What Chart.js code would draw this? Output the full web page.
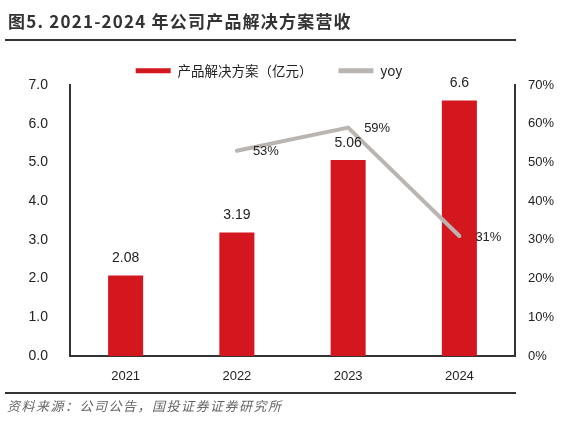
<!DOCTYPE html>
<html>
<head>
<meta charset="utf-8">
<script src="https://cdn.jsdelivr.net/npm/chart.js@4.4.0/dist/chart.umd.min.js"></script>
<style>
  html, body { margin: 0; padding: 0; background: #fff; }
  #wrap { position: relative; width: 574px; height: 428px; overflow: hidden; }
  #title { position: absolute; left: 8px; top: 8px; font: bold 17px "Noto Sans CJK SC", sans-serif; color: #333; letter-spacing: 1.2px; white-space: nowrap; }
  .rule { position: absolute; left: 5px; width: 511px; height: 2px; background: #333; }
  #source { position: absolute; left: 7px; top: 396px; font: italic 13px "Noto Sans CJK SC", sans-serif; color: #666; letter-spacing: 1.5px; white-space: nowrap; }
  #grafico { position: absolute; left: 0; top: 0; }
</style>
</head>
<body>
<div id="wrap">
  <canvas id="grafico" width="574" height="428"></canvas>
  <div id="title">图5. 2021-2024 年公司产品解决方案营收</div>
  <div class="rule" style="top:39px"></div>
  <div class="rule" style="top:392px"></div>
  <div id="source">资料来源：公司公告，国投证券证券研究所</div>
</div>
<script>
// 数据
const years = ['2021', '2022', '2023', '2024'];
const revenue = [2.08, 3.19, 5.06, 6.6];
const revenueLabels = ['2.08', '3.19', '5.06', '6.6'];
const yoy = [null, 53, 59, 31];

const RED = '#d4171f';
const GRAY = '#bab5b0';

// 在柱子和折线上写数值
const valueLabels = {
  id: 'valueLabels',
  afterDatasetsDraw(chart) {
    const ctx = chart.ctx;
    ctx.save();
    ctx.fillStyle = '#222';
    ctx.font = '14px "Liberation Sans", Arial, sans-serif';
    ctx.textAlign = 'center';
    ctx.textBaseline = 'bottom';
    chart.getDatasetMeta(0).data.forEach((bar, i) => {
      ctx.fillText(revenueLabels[i], bar.x, bar.y - 10);
    });
    ctx.font = '13px "Liberation Sans", Arial, sans-serif';
    ctx.textAlign = 'left';
    ctx.textBaseline = 'middle';
    chart.getDatasetMeta(1).data.forEach((pt, i) => {
      if (yoy[i] === null) return;
      ctx.fillText(yoy[i] + '%', pt.x + 16, pt.y + 1);
    });
    ctx.restore();
  }
};

// 图例稍微左移，和原图一致
const legendShift = {
  id: 'legendShift',
  afterLayout(chart) {
    chart.legend.left -= 18;
    chart.legend.right -= 18;
  }
};

new Chart(document.getElementById('grafico'), {
  type: 'bar',
  data: {
    labels: years,
    datasets: [
      {
        label: '产品解决方案（亿元）',
        data: revenue,
        backgroundColor: RED,
        yAxisID: 'y',
        categoryPercentage: 1,
        barPercentage: 0.315,
        order: 2
      },
      {
        type: 'line',
        label: 'yoy',
        data: yoy,
        borderColor: GRAY,
        backgroundColor: GRAY,
        borderWidth: 4,
        borderCapStyle: 'round',
        pointRadius: 0,
        tension: 0,
        yAxisID: 'y1',
        order: 1
      }
    ]
  },
  options: {
    responsive: false,
    animation: false,
    layout: { padding: { top: 38, right: 0, left: 0, bottom: 0 } },
    plugins: {
      tooltip: { enabled: false },
      legend: {
        position: 'top',
        maxHeight: 47,
        labels: {
          boxWidth: 35,
          boxHeight: 5,
          padding: 26,
          color: '#222',
          font: { size: 13.5, family: '"Noto Sans CJK SC", sans-serif' },
          sort: (a, b) => a.datasetIndex - b.datasetIndex,
          generateLabels(chart) {
            const items = Chart.defaults.plugins.legend.labels.generateLabels(chart);
            items.forEach(it => { it.lineWidth = 0; });
            return items;
          }
        }
      }
    },
    scales: {
      x: {
        grid: { display: false },
        border: { display: true, color: '#333', width: 2 },
        ticks: { color: '#222', padding: 5, font: { size: 13, family: '"Liberation Sans", Arial, sans-serif' } },
        afterFit(scale) { scale.height = 72; }
      },
      y: {
        position: 'left',
        min: 0,
        max: 7,
        grid: { display: false },
        border: { display: true, color: '#333', width: 2 },
        ticks: {
          stepSize: 1,
          padding: 14,
          color: '#222',
          font: { size: 14, family: '"Liberation Sans", Arial, sans-serif' },
          callback: v => v.toFixed(1)
        },
        afterFit(scale) { scale.width = 70; }
      },
      y1: {
        position: 'right',
        min: 0,
        max: 70,
        grid: { display: false },
        border: { display: true, color: '#333', width: 2 },
        ticks: {
          stepSize: 10,
          padding: 5,
          color: '#222',
          font: { size: 13, family: '"Liberation Sans", Arial, sans-serif' },
          callback: v => v + '%'
        },
        afterFit(scale) { scale.width = 59; }
      }
    }
  },
  plugins: [valueLabels, legendShift]
});
</script>
</body>
</html>
